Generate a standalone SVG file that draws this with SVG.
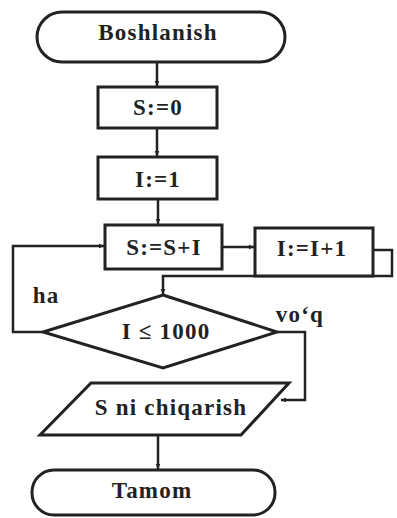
<svg xmlns="http://www.w3.org/2000/svg" width="397" height="518" viewBox="0 0 397 518">
<defs>
<marker id="ah" viewBox="0 0 10 10" refX="9" refY="5" markerWidth="6" markerHeight="6" orient="auto" markerUnits="userSpaceOnUse">
<path d="M0,1 L10,5 L0,9 z" fill="#222"/>
</marker>
</defs>
<style>
.sh{fill:#fff;stroke:#222;stroke-width:3}
.t{font-family:"Liberation Serif","Times New Roman",serif;font-weight:bold;font-size:23px;letter-spacing:1.2px;fill:#222;text-anchor:middle}
.c{fill:none;stroke:#222;stroke-width:2.5}
</style>
<rect width="397" height="518" fill="#fff"/>
<g id="connectors">
<path class="c" d="M157,62 V86" marker-end="url(#ah)"/>
<path class="c" d="M157,128 V156" marker-end="url(#ah)"/>
<path class="c" d="M158,199 V224" marker-end="url(#ah)"/>
<path class="c" d="M222,247 H254" marker-end="url(#ah)"/>
<path class="c" d="M373,250 H392 V276 H163 V294" marker-end="url(#ah)"/>
<path class="c" d="M43,332 H13 V246 H104" marker-end="url(#ah)"/>
<path class="c" d="M277,332 H305 V400 H281" marker-end="url(#ah)"/>
<path class="c" d="M158,435 V469" marker-end="url(#ah)"/>
</g>
<g id="start">
<rect class="sh" x="37" y="12" width="248" height="50" rx="25" ry="25"/>
<text class="t" x="158" y="40">Boshlanish</text>
</g>
<g id="s0">
<rect class="sh" x="98" y="87" width="119" height="41"/>
<text class="t" x="158" y="115">S:=0</text>
</g>
<g id="i1">
<rect class="sh" x="98" y="157" width="119" height="42"/>
<text class="t" x="158" y="187">I:=1</text>
</g>
<g id="sum">
<rect class="sh" x="105" y="225" width="117" height="44"/>
<text class="t" x="164" y="255">S:=S+I</text>
</g>
<g id="inc">
<rect class="sh" x="255" y="228" width="118" height="48"/>
<text class="t" x="312" y="256">I:=I+1</text>
</g>
<g id="cond">
<polygon class="sh" points="163,295 277,332 163,368 43,332"/>
<text class="t" x="166" y="339">I ≤ 1000</text>
<text class="t" x="46" y="303">ha</text>
<text class="t" x="300" y="322">vo‘q</text>
</g>
<g id="out">
<polygon class="sh" points="91,383 289,383 241,435 40,435"/>
<text class="t" x="171" y="415">S ni chiqarish</text>
</g>
<g id="end">
<rect class="sh" x="32" y="470" width="243" height="45" rx="22" ry="22"/>
<text class="t" x="152" y="498">Tamom</text>
</g>
</svg>
